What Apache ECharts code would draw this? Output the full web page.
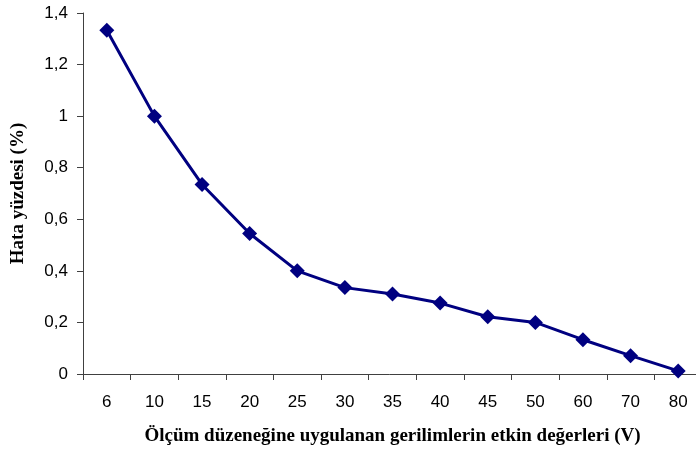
<!DOCTYPE html>
<html>
<head>
<meta charset="utf-8">
<script src="https://cdn.jsdelivr.net/npm/echarts@6/dist/echarts.min.js"></script>
<style>
html,body{margin:0;padding:0;background:#fff;}
#chart{width:696px;height:452px;}
</style>
</head>
<body>
<div id="chart"></div>
<script>
var categories = ['6','10','15','20','25','30','35','40','45','50','60','70','80'];
var errorPercent = [1.333, 1.0, 0.735, 0.545, 0.40, 0.335, 0.31, 0.275, 0.222, 0.20, 0.133, 0.071, 0.012];
var xTitle = 'Ölçüm düzeneğine uygulanan gerilimlerin etkin değerleri (V)';
var yTitle = 'Hata yüzdesi (%)';

var chart = echarts.init(document.getElementById('chart'));
chart.setOption({
  animation: false,
  backgroundColor: '#fff',
  grid: {left: 83, right: -6, top: 13, bottom: 78, containLabel: false, outerBoundsMode: 'none'},
  xAxis: {
    type: 'category',
    data: categories,
    boundaryGap: true,
    name: xTitle,
    nameLocation: 'middle',
    nameGap: 53,
    nameTextStyle: {fontFamily: 'Liberation Serif', fontWeight: 'bold', fontSize: 19, color: '#000'},
    axisLine: {lineStyle: {color: '#404040', width: 1}},
    axisTick: {show: true, length: 6, inside: false, lineStyle: {color: '#404040'}},
    axisLabel: {fontFamily: 'Liberation Sans', fontSize: 17, color: '#000', margin: 20, interval: 0},
    splitLine: {show: false}
  },
  yAxis: {
    type: 'value',
    min: 0,
    max: 1.4,
    interval: 0.2,
    name: yTitle,
    nameLocation: 'middle',
    nameGap: 55,
    nameTextStyle: {fontFamily: 'Liberation Serif', fontWeight: 'bold', fontSize: 19, color: '#000'},
    axisLine: {show: true, lineStyle: {color: '#404040', width: 1}},
    axisTick: {show: true, length: 6, lineStyle: {color: '#404040'}},
    axisLabel: {
      fontFamily: 'Liberation Sans', fontSize: 17, color: '#000', margin: 15,
      formatter: function (v) { return String(Math.round(v * 10) / 10).replace('.', ','); }
    },
    splitLine: {show: false}
  },
  series: [{
    type: 'line',
    data: errorPercent,
    symbol: 'diamond',
    symbolSize: 15,
    lineStyle: {color: '#000080', width: 3},
    itemStyle: {color: '#000080'},
    clip: false
  }]
});
</script>
</body>
</html>
